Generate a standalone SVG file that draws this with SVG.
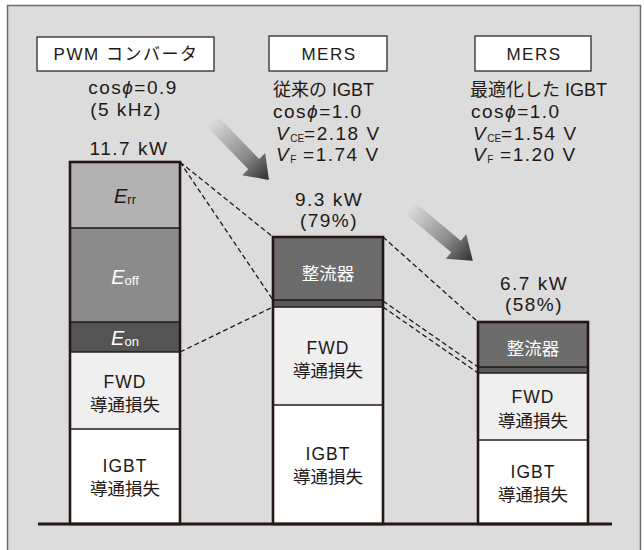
<svg xmlns="http://www.w3.org/2000/svg" width="644" height="550" viewBox="0 0 644 550">
<defs>
<style>
.t{font-family:"Liberation Sans","Noto Sans CJK JP",sans-serif;fill:#231815}
.w{fill:#ffffff}
.c{text-anchor:middle}
.n{font-size:19px;letter-spacing:1.5px}
.k{font-size:18px}
.h{font-size:17px;letter-spacing:1.5px}
.b{font-size:17.5px}
.hb{fill:#ffffff;stroke:#231815;stroke-width:1.2}
.sep{stroke:#231815;stroke-width:1.5}
.out{fill:none;stroke:#231815;stroke-width:2.6}
.dash{fill:none;stroke:#231815;stroke-width:1.3;stroke-dasharray:5 3}
</style>
<linearGradient id="ag" x1="0" y1="0" x2="1" y2="0">
<stop offset="0" stop-color="#dcdcdc"/>
<stop offset="0.6" stop-color="#8a8a8a"/>
<stop offset="1" stop-color="#2e2e2e"/>
</linearGradient>
</defs>
<rect x="7.5" y="5.5" width="633" height="560" fill="#dcdcdc" stroke="#6e6e6e" stroke-width="1.5"/>

<g id="header-pwm">
<rect class="hb" x="37" y="37" width="177" height="34"/>
<text class="t c h" x="126" y="60">PWM コンバータ</text>
<text class="t c n" x="133" y="94">cos<tspan font-style="italic">ϕ</tspan>=0.9</text>
<text class="t c n" x="126" y="116">(5 kHz)</text>
</g>
<g id="header-mers1">
<rect class="hb" x="269" y="36" width="118" height="35"/>
<text class="t c h" x="329" y="60">MERS</text>
<text class="t k" x="273" y="96">従来の IGBT</text>
<text class="t n" x="273" y="118">cos<tspan font-style="italic">ϕ</tspan>=1.0</text>
<text class="t n" x="276" y="140"><tspan font-style="italic">V</tspan><tspan font-size="10" letter-spacing="0" dy="2">CE</tspan><tspan dy="-2">=2.18 V</tspan></text>
<text class="t n" x="276" y="161"><tspan font-style="italic">V</tspan><tspan font-size="10" letter-spacing="0" dy="2">F</tspan><tspan dy="-2"> =1.74 V</tspan></text>
</g>
<g id="header-mers2">
<rect class="hb" x="475" y="36" width="116" height="35"/>
<text class="t c h" x="534" y="60">MERS</text>
<text class="t k" x="470" y="96">最適化した IGBT</text>
<text class="t n" x="471" y="118">cos<tspan font-style="italic">ϕ</tspan>=1.0</text>
<text class="t n" x="473" y="140"><tspan font-style="italic">V</tspan><tspan font-size="10" letter-spacing="0" dy="2">CE</tspan><tspan dy="-2">=1.54 V</tspan></text>
<text class="t n" x="473" y="161"><tspan font-style="italic">V</tspan><tspan font-size="10" letter-spacing="0" dy="2">F</tspan><tspan dy="-2"> =1.20 V</tspan></text>
</g>

<g id="connectors">
<line class="dash" x1="180" y1="162" x2="273" y2="237"/>
<line class="dash" x1="180" y1="162" x2="273" y2="300"/>
<line class="dash" x1="180" y1="352" x2="273" y2="307"/>
<line class="dash" x1="383" y1="237" x2="478" y2="322"/>
<line class="dash" x1="383" y1="301" x2="478" y2="367"/>
<line class="dash" x1="383" y1="307" x2="478" y2="373"/>
<g transform="translate(212,121) rotate(46)">
<path d="M0,-7.5 L60,-7.5 L60,-16 L82,0 L60,16 L60,7.5 L0,7.5 Z" fill="url(#ag)"/>
</g>
<g transform="translate(410,208) rotate(40)">
<path d="M0,-7.5 L60,-7.5 L60,-16 L82,0 L60,16 L60,7.5 L0,7.5 Z" fill="url(#ag)"/>
</g>
</g>

<g id="bar-pwm">
<text class="t c n" x="129" y="155" letter-spacing="1">11.7 kW</text>
<rect x="70" y="162" width="110" height="66" fill="#b2b2b2"/>
<rect x="70" y="228" width="110" height="94" fill="#8b8b8b"/>
<rect x="70" y="322" width="110" height="30" fill="#545454"/>
<rect x="70" y="352" width="110" height="77" fill="#efefef"/>
<rect x="70" y="429" width="110" height="95" fill="#ffffff"/>
<line class="sep" x1="70" y1="228" x2="180" y2="228"/>
<line class="sep" x1="70" y1="322" x2="180" y2="322"/>
<line class="sep" x1="70" y1="352" x2="180" y2="352"/>
<line class="sep" x1="70" y1="429" x2="180" y2="429"/>
<rect class="out" x="70" y="162" width="110" height="362"/>
<text class="t c" x="125" y="203" font-size="20"><tspan font-style="italic">E</tspan><tspan font-size="13" dy="1">rr</tspan></text>
<text class="t c w" x="125" y="284" font-size="20"><tspan font-style="italic">E</tspan><tspan font-size="13" dy="1">off</tspan></text>
<text class="t c w" x="125" y="345" font-size="20"><tspan font-style="italic">E</tspan><tspan font-size="13" dy="1">on</tspan></text>
<text class="t c b" x="125" y="388" letter-spacing="1">FWD</text>
<text class="t c b" x="125" y="411">導通損失</text>
<text class="t c b" x="125" y="472" letter-spacing="1">IGBT</text>
<text class="t c b" x="125" y="495">導通損失</text>
</g>

<g id="bar-mers1">
<text class="t c n" x="329" y="206" letter-spacing="1">9.3 kW</text>
<text class="t c n" x="329" y="227" letter-spacing="1">(79%)</text>
<rect x="273" y="237" width="110" height="63" fill="#6c6c6c"/>
<rect x="273" y="300" width="110" height="7" fill="#5a5a5a"/>
<rect x="273" y="307" width="110" height="98" fill="#efefef"/>
<rect x="273" y="405" width="110" height="119" fill="#ffffff"/>
<line class="sep" x1="273" y1="300" x2="383" y2="300"/>
<line class="sep" x1="273" y1="307" x2="383" y2="307"/>
<line class="sep" x1="273" y1="405" x2="383" y2="405"/>
<rect class="out" x="273" y="237" width="110" height="287"/>
<text class="t c w b" x="328" y="280">整流器</text>
<text class="t c b" x="328" y="354" letter-spacing="1">FWD</text>
<text class="t c b" x="328" y="377">導通損失</text>
<text class="t c b" x="328" y="460" letter-spacing="1">IGBT</text>
<text class="t c b" x="328" y="483">導通損失</text>
</g>

<g id="bar-mers2">
<text class="t c n" x="534" y="290" letter-spacing="1">6.7 kW</text>
<text class="t c n" x="534" y="311" letter-spacing="1">(58%)</text>
<rect x="478" y="322" width="110" height="45" fill="#6c6c6c"/>
<rect x="478" y="367" width="110" height="6" fill="#5a5a5a"/>
<rect x="478" y="373" width="110" height="67" fill="#efefef"/>
<rect x="478" y="440" width="110" height="84" fill="#ffffff"/>
<line class="sep" x1="478" y1="367" x2="588" y2="367"/>
<line class="sep" x1="478" y1="373" x2="588" y2="373"/>
<line class="sep" x1="478" y1="440" x2="588" y2="440"/>
<rect class="out" x="478" y="322" width="110" height="202"/>
<text class="t c w b" x="533" y="355">整流器</text>
<text class="t c b" x="533" y="403" letter-spacing="1">FWD</text>
<text class="t c b" x="533" y="427">導通損失</text>
<text class="t c b" x="533" y="478" letter-spacing="1">IGBT</text>
<text class="t c b" x="533" y="501">導通損失</text>
</g>

<line x1="38" y1="524" x2="612" y2="524" stroke="#231815" stroke-width="3"/>
</svg>
